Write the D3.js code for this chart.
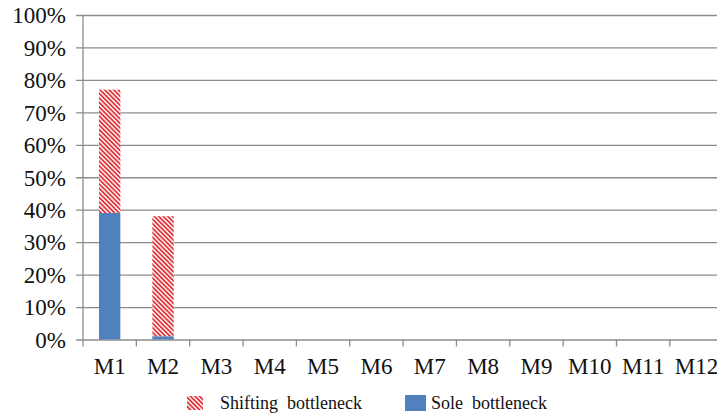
<!DOCTYPE html>
<html>
<head>
<meta charset="utf-8">
<script src="https://cdn.jsdelivr.net/npm/d3@7"></script>
<style>
  html, body { margin: 0; padding: 0; background: #fff; }
  svg { display: block; }
</style>
</head>
<body>
<svg id="chart" width="717" height="416"></svg>
<script>
// Machines along the x axis
const machines = ["M1", "M2", "M3", "M4", "M5", "M6", "M7", "M8", "M9", "M10", "M11", "M12"];
// Share of time each machine is the sole bottleneck
const soleBottleneck = [0.39, 0.01, 0, 0, 0, 0, 0, 0, 0, 0, 0, 0];
// Share of time each machine is a shifting bottleneck
const shiftingBottleneck = [0.38, 0.37, 0, 0, 0, 0, 0, 0, 0, 0, 0, 0];
// Y axis ticks
const yTicks = [0, 0.1, 0.2, 0.3, 0.4, 0.5, 0.6, 0.7, 0.8, 0.9, 1.0];

const seriesKeys = ["sole", "shifting"];
const seriesNames = { sole: "Sole bottleneck", shifting: "Shifting bottleneck" };
const FONT = "Liberation Serif";

const rows = machines.map((m, i) => ({
  machine: m,
  sole: soleBottleneck[i],
  shifting: shiftingBottleneck[i]
}));

const svg = d3.select("#chart");
const margin = { left: 83, top: 15, bottom: 339.5 };
const plotRight = margin.left + 53.35 * machines.length;

// Diagonal red hatch fill
const defs = svg.append("defs");
const pat = defs.append("pattern")
  .attr("id", "hatch")
  .attr("patternUnits", "userSpaceOnUse")
  .attr("width", 3.2)
  .attr("height", 3.2)
  .attr("patternTransform", "rotate(-45)");
pat.append("rect").attr("width", 3.2).attr("height", 3.2).attr("fill", "#fff");
pat.append("rect").attr("x", 0).attr("width", 1.8).attr("height", 3.2).attr("fill", "#E2333B");

const fills = { sole: "#4F81BD", shifting: "url(#hatch)" };

const x = d3.scaleBand()
  .domain(machines)
  .range([margin.left, plotRight])
  .paddingInner(0.6)
  .paddingOuter(0.3);

const xTick = d3.scaleBand().domain(machines).range([margin.left, plotRight]);

const y = d3.scaleLinear().domain([0, 1]).range([margin.bottom, margin.top]);

// Gridlines + y axis
const yAxis = d3.axisLeft(y)
  .tickValues(yTicks)
  .tickFormat(d3.format(".0%"))
  .tickSize(-(plotRight - margin.left))
  .tickSizeOuter(0)
  .tickPadding(17);

const gy = svg.append("g")
  .attr("transform", `translate(${margin.left},0)`)
  .call(yAxis)
  .attr("font-family", FONT);
gy.select(".domain").remove();
gy.selectAll(".tick line")
  .attr("x1", -7)
  .attr("stroke", "#8c8c8c")
  .attr("stroke-width", 1.3);
gy.selectAll(".tick text")
  .attr("font-size", 23)
  .attr("fill", "#111")
  .attr("dy", "0.34em");

// Vertical axis line
svg.append("line")
  .attr("x1", margin.left).attr("x2", margin.left)
  .attr("y1", margin.top).attr("y2", margin.bottom)
  .attr("stroke", "#8c8c8c").attr("stroke-width", 1.3);

// Stacked bars
const stacked = d3.stack().keys(seriesKeys)(rows);
svg.append("g").selectAll("g")
  .data(stacked)
  .join("g")
  .attr("fill", d => fills[d.key])
  .selectAll("rect")
  .data(d => d.filter(p => p[1] - p[0] > 0))
  .join("rect")
  .attr("x", d => x(d.data.machine))
  .attr("width", x.bandwidth())
  .attr("y", d => y(d[1]))
  .attr("height", d => y(d[0]) - y(d[1]));

// Category axis
const xAxis = d3.axisBottom(xTick).tickSize(0).tickPadding(18);
const gx = svg.append("g")
  .attr("transform", `translate(0,${margin.bottom})`)
  .call(xAxis)
  .attr("font-family", FONT);
gx.select(".domain").remove();
gx.selectAll(".tick text")
  .attr("font-size", 23)
  .attr("fill", "#111")
  .attr("dy", "0.71em");

// Category boundary ticks
const boundaries = machines.map(m => xTick(m)).concat([plotRight]);
svg.append("g").selectAll("line")
  .data(boundaries)
  .join("line")
  .attr("x1", d => d).attr("x2", d => d)
  .attr("y1", margin.bottom).attr("y2", margin.bottom + 7)
  .attr("stroke", "#8c8c8c").attr("stroke-width", 1.3);

// Legend
const legendItems = [
  { key: "shifting", x: 187, w: 16, h: 14, dy: 2, tx: 33 },
  { key: "sole", x: 405, w: 21, h: 16, dy: 1, tx: 26 }
];
const lg = svg.append("g")
  .attr("font-family", FONT)
  .selectAll("g")
  .data(legendItems)
  .join("g")
  .attr("transform", d => `translate(${d.x},394)`);
lg.append("rect")
  .attr("y", d => d.dy)
  .attr("width", d => d.w).attr("height", d => d.h)
  .attr("fill", d => fills[d.key]);
lg.append("text")
  .attr("x", d => d.tx)
  .attr("y", 15)
  .attr("font-size", 18)
  .attr("fill", "#111")
  .style("word-spacing", "4.5px")
  .text(d => seriesNames[d.key]);
</script>
</body>
</html>
